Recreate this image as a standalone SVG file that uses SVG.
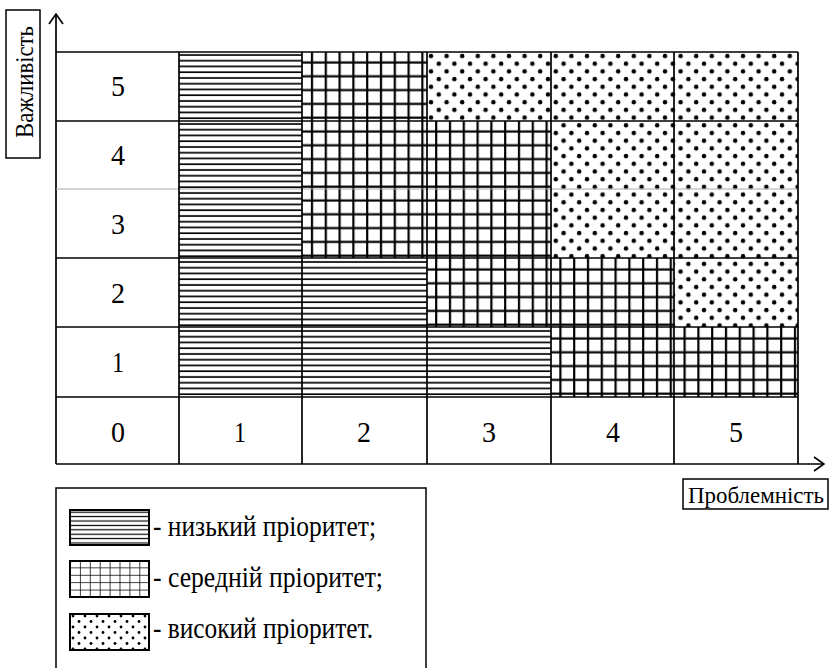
<svg xmlns="http://www.w3.org/2000/svg" width="831" height="668" viewBox="0 0 831 668">
  <style>
    text { font-family: "Liberation Serif", "Times New Roman", serif; fill: #000; }
    .num { font-size: 30px; text-anchor: middle; }
    .lbl { font-size: 30px; }
    .ln { stroke: #000; stroke-width: 1.7; fill: none; }
    .thin { stroke: #aaa; stroke-width: 1; fill: none; }
    .axis { stroke: #000; stroke-width: 1.7; fill: none; }
    .box { stroke: #000; stroke-width: 1.5; fill: #fff; }
    .hz { fill: url(#hatchLow); }
    .gr { fill: url(#hatchMid); }
    .dt { fill: url(#hatchHigh); }
  </style>
  <defs>
    <!-- Horizontal lines: low priority -->
    <pattern id="hatchLow" patternUnits="userSpaceOnUse" width="20" height="5.75" y="52">
      <rect width="20" height="5.75" fill="#fff"/>
      <line x1="0" y1="3" x2="20" y2="3" stroke="#000" stroke-width="1.7"/>
    </pattern>
    <!-- Square grid: medium priority -->
    <pattern id="hatchMid" patternUnits="userSpaceOnUse" width="13.8" height="13.8" x="302" y="52">
      <rect width="13.8" height="13.8" fill="#fff"/>
      <line x1="10" y1="0" x2="10" y2="13.8" stroke="#000" stroke-width="2.2"/>
      <line x1="0" y1="10.5" x2="13.8" y2="10.5" stroke="#000" stroke-width="2.2"/>
    </pattern>
    <!-- Staggered dots: high priority -->
    <pattern id="hatchHigh" patternUnits="userSpaceOnUse" width="15.6" height="15.4" x="427" y="52">
      <rect width="15.6" height="15.4" fill="#fff"/>
      <circle cx="4" cy="4" r="2.2" fill="#000"/>
      <circle cx="11.8" cy="11.7" r="2.2" fill="#000"/>
    </pattern>
    <!-- Smaller variants for the legend swatches -->
    <pattern id="legLow" patternUnits="userSpaceOnUse" width="10" height="4.4" y="510">
      <rect width="10" height="4.4" fill="#fff"/>
      <line x1="0" y1="2.2" x2="10" y2="2.2" stroke="#000" stroke-width="1.2"/>
    </pattern>
    <pattern id="legMid" patternUnits="userSpaceOnUse" width="9.9" height="7.4" x="70" y="560">
      <rect width="9.9" height="7.4" fill="#fff"/>
      <line x1="0" y1="0" x2="0" y2="7.4" stroke="#000" stroke-width="1.5"/>
      <line x1="0" y1="0" x2="9.9" y2="0" stroke="#000" stroke-width="1.5"/>
    </pattern>
    <pattern id="legHigh" patternUnits="userSpaceOnUse" width="12" height="11" x="70" y="613">
      <rect width="12" height="11" fill="#fff"/>
      <circle cx="3" cy="3" r="1.4" fill="#000"/>
      <circle cx="9" cy="8.5" r="1.4" fill="#000"/>
    </pattern>
    <marker id="chev" viewBox="0 0 12 16" refX="11" refY="8" markerWidth="12" markerHeight="16" markerUnits="userSpaceOnUse" orient="auto">
      <path d="M1,1 L11,8 L1,15" fill="none" stroke="#000" stroke-width="1.6"/>
    </marker>
  </defs>

  <!-- Axes -->
  <g id="connectors">
    <line class="axis" x1="56" y1="464" x2="56" y2="14" marker-end="url(#chev)"/>
    <line class="axis" x1="56" y1="464" x2="824" y2="464" marker-end="url(#chev)"/>
  </g>

  <!-- Axis titles -->
  <g id="y-title">
    <rect class="box" x="6" y="10" width="34" height="148"/>
    <text transform="translate(33,138) rotate(-90)" font-size="26" textLength="112" lengthAdjust="spacingAndGlyphs">Важливість</text>
  </g>
  <g id="x-title">
    <rect class="box" x="683" y="479" width="145" height="30"/>
    <text x="688" y="503" font-size="23" textLength="136" lengthAdjust="spacingAndGlyphs">Проблемність</text>
  </g>

  <!-- Priority matrix cells -->
  <g id="matrix">
    <!-- row 5 -->
    <rect class="hz" x="179" y="52" width="123" height="69"/>
    <rect class="gr" x="302" y="52" width="125" height="69"/>
    <rect class="dt" x="427" y="52" width="124" height="69"/>
    <rect class="dt" x="551" y="52" width="123" height="69"/>
    <rect class="dt" x="674" y="52" width="124" height="69"/>
    <!-- row 4 -->
    <rect class="hz" x="179" y="121" width="123" height="68"/>
    <rect class="gr" x="302" y="121" width="125" height="68"/>
    <rect class="gr" x="427" y="121" width="124" height="68"/>
    <rect class="dt" x="551" y="121" width="123" height="68"/>
    <rect class="dt" x="674" y="121" width="124" height="68"/>
    <!-- row 3 -->
    <rect class="hz" x="179" y="189" width="123" height="69"/>
    <rect class="gr" x="302" y="189" width="125" height="69"/>
    <rect class="gr" x="427" y="189" width="124" height="69"/>
    <rect class="dt" x="551" y="189" width="123" height="69"/>
    <rect class="dt" x="674" y="189" width="124" height="69"/>
    <!-- row 2 -->
    <rect class="hz" x="179" y="258" width="123" height="69"/>
    <rect class="hz" x="302" y="258" width="125" height="69"/>
    <rect class="gr" x="427" y="258" width="124" height="69"/>
    <rect class="gr" x="551" y="258" width="123" height="69"/>
    <rect class="dt" x="674" y="258" width="124" height="69"/>
    <!-- row 1 -->
    <rect class="hz" x="179" y="327" width="123" height="70"/>
    <rect class="hz" x="302" y="327" width="125" height="70"/>
    <rect class="hz" x="427" y="327" width="124" height="70"/>
    <rect class="gr" x="551" y="327" width="123" height="70"/>
    <rect class="gr" x="674" y="327" width="124" height="70"/>

    <!-- grid rules -->
    <line class="thin" x1="56" y1="189" x2="798" y2="189"/>
    <line class="ln" x1="56" y1="52" x2="798" y2="52"/>
    <line class="ln" x1="56" y1="121" x2="798" y2="121"/>
    <line class="ln" x1="56" y1="258" x2="798" y2="258"/>
    <line class="ln" x1="56" y1="327" x2="798" y2="327"/>
    <line class="ln" x1="56" y1="397" x2="798" y2="397"/>
    <line class="ln" x1="179" y1="52" x2="179" y2="464"/>
    <line class="ln" x1="302" y1="52" x2="302" y2="464"/>
    <line class="ln" x1="427" y1="52" x2="427" y2="464"/>
    <line class="ln" x1="551" y1="52" x2="551" y2="464"/>
    <line class="ln" x1="674" y1="52" x2="674" y2="464"/>
    <line class="ln" x1="798" y1="52" x2="798" y2="464"/>
  </g>

  <!-- Importance scale -->
  <g id="importance-labels">
    <text class="num" x="118" y="96" textLength="14" lengthAdjust="spacingAndGlyphs">5</text>
    <text class="num" x="118" y="165" textLength="14" lengthAdjust="spacingAndGlyphs">4</text>
    <text class="num" x="118" y="234" textLength="14" lengthAdjust="spacingAndGlyphs">3</text>
    <text class="num" x="118" y="303" textLength="14" lengthAdjust="spacingAndGlyphs">2</text>
    <text class="num" x="118" y="372" textLength="12" lengthAdjust="spacingAndGlyphs">1</text>
  </g>
  <!-- Problem scale -->
  <g id="problem-labels">
    <text class="num" x="118" y="442" textLength="14" lengthAdjust="spacingAndGlyphs">0</text>
    <text class="num" x="240" y="442" textLength="12" lengthAdjust="spacingAndGlyphs">1</text>
    <text class="num" x="364" y="442" textLength="14" lengthAdjust="spacingAndGlyphs">2</text>
    <text class="num" x="489" y="442" textLength="14" lengthAdjust="spacingAndGlyphs">3</text>
    <text class="num" x="613" y="442" textLength="14" lengthAdjust="spacingAndGlyphs">4</text>
    <text class="num" x="736" y="442" textLength="14" lengthAdjust="spacingAndGlyphs">5</text>
  </g>

  <!-- Legend -->
  <g id="legend">
    <rect class="box" x="56" y="488" width="370" height="190"/>
    <g id="legend-low">
      <rect x="70" y="510" width="79" height="35" fill="url(#legLow)" stroke="#000" stroke-width="2"/>
      <text class="lbl" x="153" y="536" textLength="223" lengthAdjust="spacingAndGlyphs">- низький пріоритет;</text>
    </g>
    <g id="legend-mid">
      <rect x="70" y="561" width="79" height="36" fill="url(#legMid)" stroke="#000" stroke-width="2"/>
      <text class="lbl" x="153" y="587" textLength="230" lengthAdjust="spacingAndGlyphs">- середній пріоритет;</text>
    </g>
    <g id="legend-high">
      <rect x="70" y="614" width="79" height="36" fill="url(#legHigh)" stroke="#000" stroke-width="2"/>
      <text class="lbl" x="153" y="638" textLength="220" lengthAdjust="spacingAndGlyphs">- високий пріоритет.</text>
    </g>
  </g>
</svg>
